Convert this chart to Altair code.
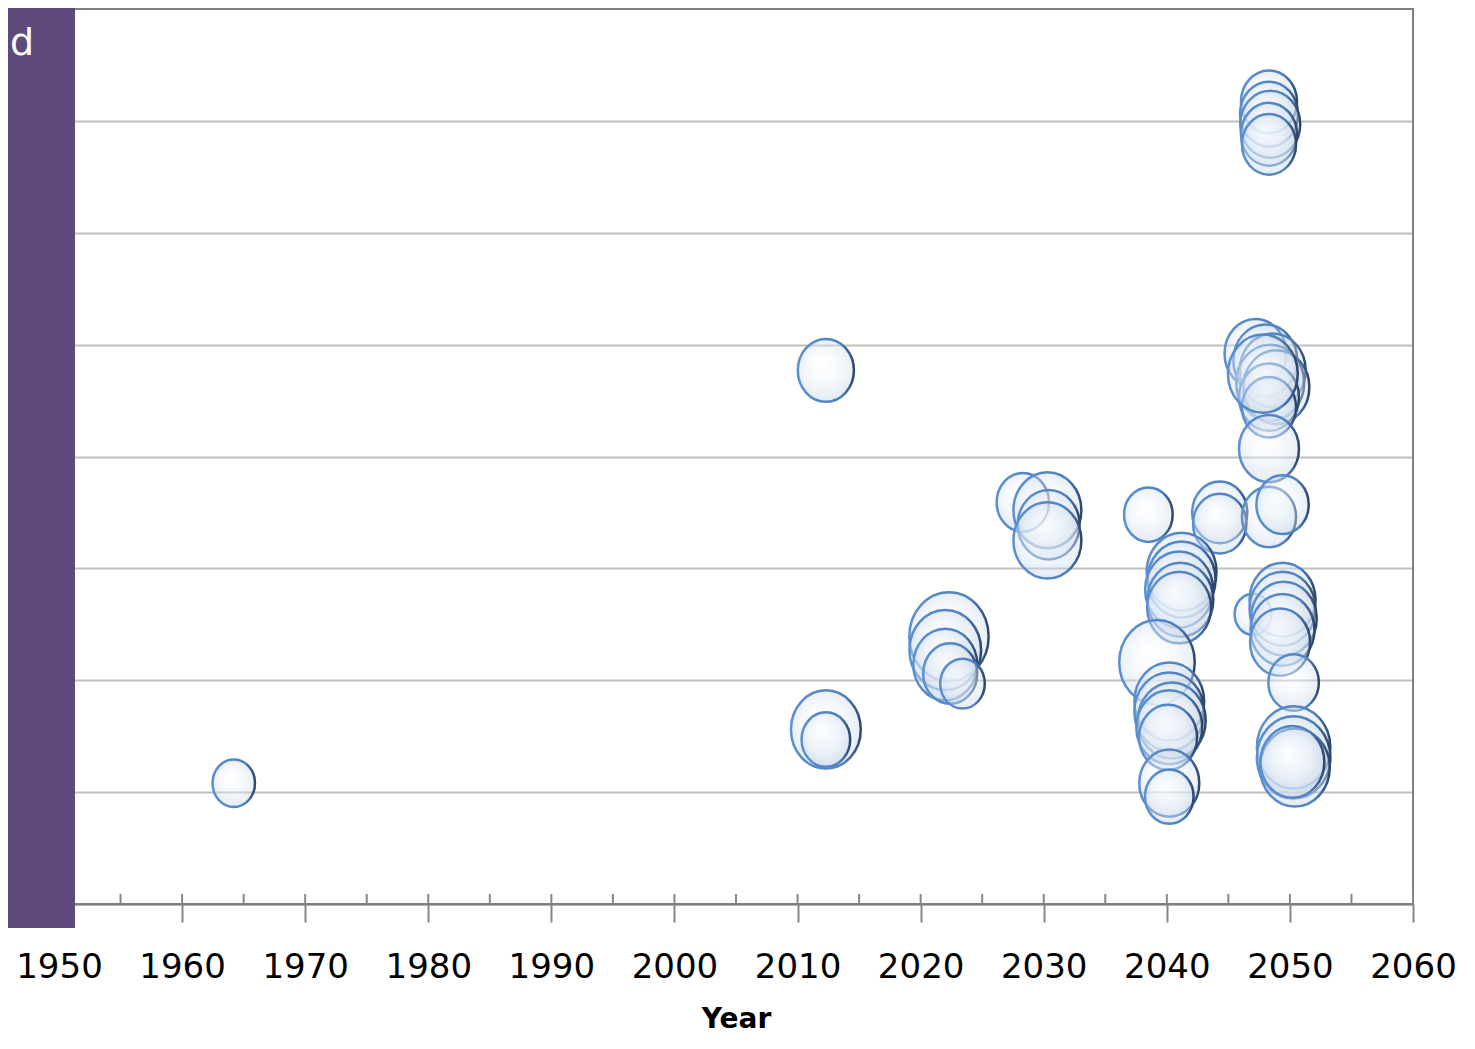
import altair as alt
import pandas as pd

# ---- data ----
years = [1964.2, 2012.3, 2012.3, 2012.3,
         2022.3, 2022.0, 2022.0, 2022.4, 2023.4,
         2028.3, 2030.3, 2030.4, 2030.3,
         2038.5, 2044.3, 2044.3,
         2048.3, 2048.3, 2048.4, 2048.3, 2048.3,
         2047.2, 2048.0, 2048.6, 2048.4, 2048.9, 2048.3, 2048.3, 2047.8, 2048.3,
         2048.3, 2049.4,
         2041.2, 2041.2, 2041.0, 2041.1, 2041.0,
         2039.2, 2040.2, 2040.2, 2040.4, 2040.2, 2040.1, 2040.2, 2040.2,
         2047.0, 2049.4, 2049.4, 2049.5, 2049.4, 2049.2,
         2050.3, 2050.3, 2050.3, 2050.4, 2050.2]
values = [1.08, 4.77, 1.56, 1.47,
          2.39, 2.27, 2.14, 2.06, 1.97,
          3.59, 3.52, 3.39, 3.25,
          3.48, 3.50, 3.40,
          7.17, 7.06, 6.97, 6.88, 6.79,
          4.92, 4.86, 4.77, 4.66, 4.62, 4.53, 4.44, 4.74, 4.07,
          3.46, 3.57,
          2.97, 2.90, 2.81, 2.72, 2.65,
          2.16, 1.81, 1.72, 1.64, 1.58, 1.49, 1.08, 0.96,
          2.59, 2.72, 2.64, 2.55, 2.45, 2.34,
          1.98, 1.40, 1.31, 1.22, 1.27]
sizes = [4.8, 8.4, 13.0, 6.3,
         16.8, 13.7, 10.9, 7.8, 5.3,
         7.3, 12.3, 10.2, 12.3,
         6.3, 8.1, 7.6,
         8.4, 9.0, 9.6, 8.4, 7.8,
         10.2, 10.9, 11.6, 12.3, 11.6, 9.6, 7.8, 13.0, 9.6,
         7.8, 7.3,
         13.0, 12.3, 12.3, 11.6, 10.9,
         15.2, 13.0, 13.0, 12.3, 11.6, 9.0, 9.6, 6.3,
         3.6, 11.6, 11.6, 11.6, 10.9, 9.6,
         6.8, 14.4, 14.4, 13.0, 10.9]

major_years = list(range(1950, 2061, 10))
tick_years = list(range(1950, 2061, 5))
y_gridlines = list(range(0, 8))
panel_label = ["d"]
x_title = "Year"

df = pd.DataFrame({"year": years, "value": values, "size": sizes})
ticks_df = pd.DataFrame({"tick": tick_years})
label_df = pd.DataFrame({"label": panel_label})

W, H = 1354, 895
AXIS_GRAY = "#868686"

x_scale = alt.Scale(domain=[1950, 2060], nice=False, zero=False)
y_scale = alt.Scale(domain=[0, 8], nice=False, zero=False)

x_axis = alt.Axis(values=major_years, format="d", grid=False,
                  labelFont="DejaVu Sans", labelFontSize=34, labelColor="#000000",
                  labelPadding=28, labelOverlap=False, labelFlush=False,
                  tickSize=18, tickWidth=2, tickColor=AXIS_GRAY,
                  domainColor=AXIS_GRAY, domainWidth=2,
                  title=x_title, titleFont="DejaVu Sans", titleFontSize=28,
                  titleFontWeight="bold", titleColor="#000000", titlePadding=21)
y_axis = alt.Axis(values=y_gridlines, grid=True, gridColor="#bfbfbf", gridWidth=2,
                  labels=False, ticks=False, domain=False, title=None)

ELLIPSE = "M-1,0A1,1.12,0,1,1,1,0A1,1.12,0,1,1,-1,0Z"

fill_grad = alt.RadialGradient(
    gradient="radial",
    stops=[alt.GradientStop(color="#ffffff", offset=0),
           alt.GradientStop(color="#e8eff7", offset=0.5),
           alt.GradientStop(color="#b9cbe2", offset=1)],
    x1=0.42, y1=0.35, r1=0, x2=0.5, y2=0.5, r2=0.55)
stroke_grad = alt.LinearGradient(
    gradient="linear",
    stops=[alt.GradientStop(color="#5b8fd0", offset=0),
           alt.GradientStop(color="#4f81bd", offset=0.78),
           alt.GradientStop(color="#2d456b", offset=1)],
    x1=0, y1=0, x2=1, y2=0)

border = alt.Chart(label_df).mark_rect(fillOpacity=0, stroke="#808080", strokeWidth=2).encode(
    x=alt.value(0), x2=alt.value(W), y=alt.value(0), y2=alt.value(H)
)

minor_ticks = alt.Chart(ticks_df).mark_rule(color=AXIS_GRAY, strokeWidth=2).encode(
    x=alt.X("tick:Q", scale=x_scale, axis=x_axis),
    y=alt.value(H - 10),
    y2=alt.value(H),
)

bubbles = alt.Chart(df).mark_point(
    shape=ELLIPSE, filled=True, fill=fill_grad, stroke=stroke_grad,
    strokeWidth=2.5, opacity=1, fillOpacity=0.42, strokeOpacity=1
).encode(
    x=alt.X("year:Q", scale=x_scale, axis=x_axis),
    y=alt.Y("value:Q", scale=y_scale, axis=y_axis),
    size=alt.Size("size:Q", scale=alt.Scale(type="linear", zero=True, domain=[0, 20], range=[0, 7500]), legend=None),
)

purple = alt.Chart(label_df).mark_rect(color="#604a7b").encode(
    x=alt.value(-51), x2=alt.value(16), y=alt.value(-1), y2=alt.value(919)
)

side_text = alt.Chart(label_df).mark_text(
    color="#ffffff", font="DejaVu Sans", fontSize=38, align="left", baseline="alphabetic"
).encode(
    x=alt.value(-49), y=alt.value(46), text="label:N"
)

chart = alt.layer(border, minor_ticks, bubbles, purple, side_text).properties(
    width=W, height=H,
    autosize=alt.AutoSizeParams(type="none"),
    padding={"left": 51, "top": 1, "right": 50, "bottom": 131},
).configure_view(stroke=None).configure(background="#ffffff")

chart.save("out.html", embed_options={"renderer": "svg", "actions": False})
